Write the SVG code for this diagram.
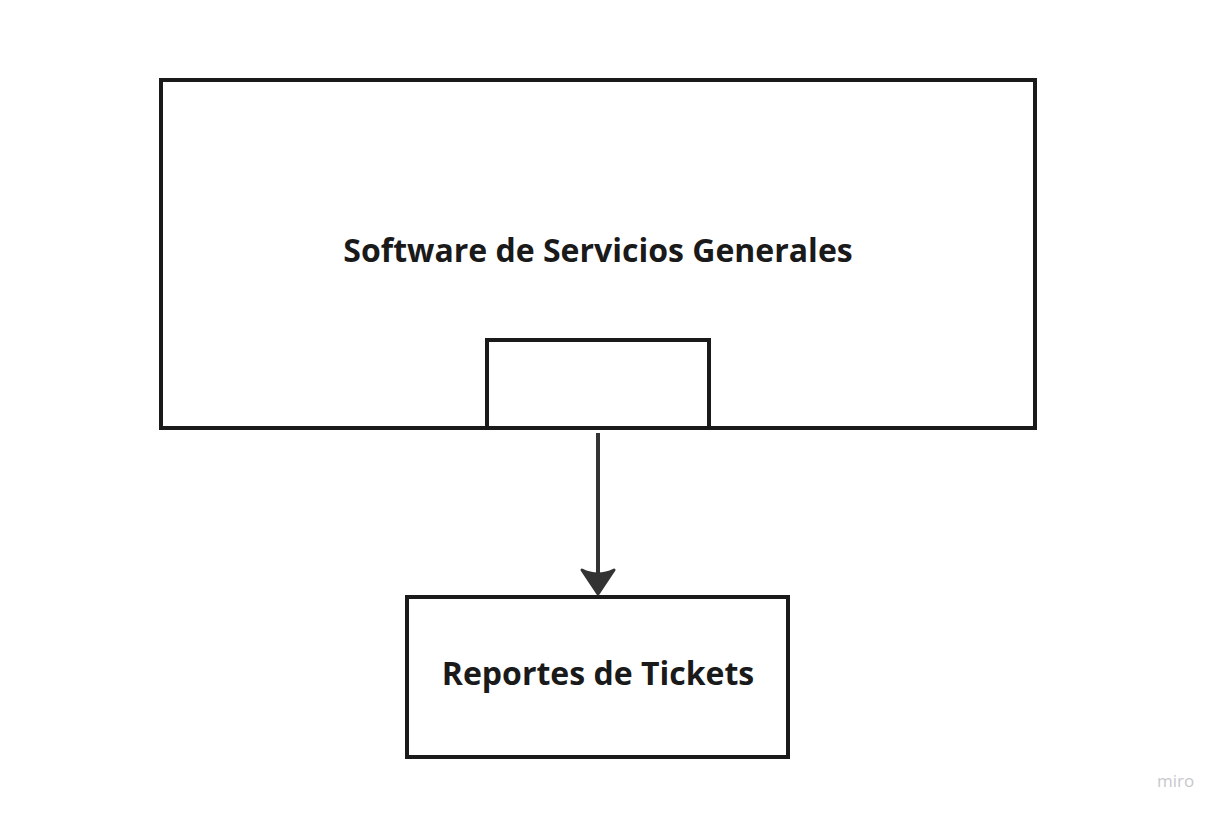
<svg xmlns="http://www.w3.org/2000/svg" width="1224" height="816" viewBox="0 0 1224 816">
<style>
.box{fill:#ffffff;stroke:#1a1a1a;stroke-width:4}
.lbl{font-family:"Open Sans","Noto Sans",sans-serif;font-weight:bold;font-size:32px;fill:#1a1a1a;text-anchor:middle}
.conn{stroke:#333333;stroke-width:4;fill:none}
.wm{font-family:"Open Sans","Noto Sans",sans-serif;font-size:17px;fill:#c8c8cc}
</style>
<rect width="1224" height="816" fill="#ffffff"/>
<g id="node-software">
<rect class="box" x="161" y="80" width="874" height="348"/>
<text class="lbl" x="598" y="262">Software de Servicios Generales</text>
</g>
<g id="node-port">
<rect class="box" x="487" y="340" width="222" height="88"/>
</g>
<g id="node-reportes">
<rect class="box" x="407" y="597" width="381" height="160"/>
<text class="lbl" x="598" y="685">Reportes de Tickets</text>
</g>
<g id="connectors">
<line class="conn" x1="598" y1="433" x2="598" y2="585"/>
<path d="M582,570 Q598,578 614,570 L598,594 Z" fill="#333333" stroke="#333333" stroke-width="3" stroke-linejoin="round"/>
</g>
<text class="wm" x="1157" y="787">miro</text>
</svg>
